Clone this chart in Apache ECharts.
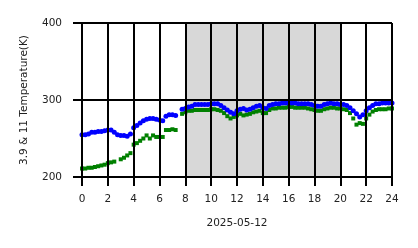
<!DOCTYPE html>
<html><head><meta charset="utf-8">
<script src="https://cdn.jsdelivr.net/npm/echarts@6/dist/echarts.min.js"></script>
<style>html,body{margin:0;padding:0;background:#fff}#c{width:418px;height:248px}</style>
</head><body><div id="c"></div>
<script>
const hours = [];
for (let i = 0; i <= 96; i++) hours.push(i * 0.25);
const xTicks = [0,2,4,6,8,10,12,14,16,18,20,22,24];
const yTicks = [200,300,400];
const shadeStart = 8, shadeEnd = 20;
const blue39 = [255,255,256,258,258,259,259,260,261,261,258,255,254,254,253,256,
264,267,270,273,275,276,276,275,274,273,279,281,281,280,null,288,
289,291,292,294,294,294,294,294,295,295,295,293,290,287,284,282,
286,288,289,287,288,290,292,293,290,289,293,294,295,295,296,296,
296,296,296,295,295,295,295,294,293,292,292,294,295,296,295,295,
294,294,293,290,286,282,278,281,286,290,293,295,295,296,296,296,296];
const green11 = [211,211,212,212,213,214,215,216,218,219,220,null,223,225,228,231,
242,244,247,250,254,250,254,252,252,252,261,261,262,261,null,282,
284,286,286,287,287,287,287,287,288,288,287,286,283,279,276,278,
280,282,280,281,282,284,285,286,283,283,287,289,289,290,290,290,
291,291,290,290,290,290,289,288,287,286,286,288,289,290,290,289,
289,288,287,283,276,268,270,269,276,281,285,287,288,288,288,289,289];

const pair = (arr) => hours.map((h, i) => [h, arr[i]]);
const font = {fontFamily: 'DejaVu Sans', color: '#222', fontSize: 10.5};
const chart = echarts.init(document.getElementById('c'), null, {renderer: 'canvas'});
chart.setOption({
  animation: false,
  grid: {left: 82, right: 26, top: 23, bottom: 71},
  xAxis: {
    type: 'value', min: 0, max: 24, interval: 2, z: 10,
    name: '2025-05-12', nameLocation: 'middle', nameGap: 41,
    nameTextStyle: font,
    axisLine: {show: false},
    axisTick: {show: true, length: 9, lineStyle: {color: '#000', width: 2}},
    axisLabel: Object.assign({margin: 17}, font),
    splitLine: {show: true, lineStyle: {color: '#000', width: 2}}
  },
  yAxis: {
    type: 'value', min: 200, max: 400, interval: 100, z: 10,
    name: '3.9 & 11 Temperature(K)', nameLocation: 'middle', nameGap: 52,
    nameTextStyle: font,
    axisLine: {show: false},
    axisTick: {show: true, length: 9, lineStyle: {color: '#000', width: 2}},
    axisLabel: Object.assign({margin: 20}, font),
    splitLine: {show: true, lineStyle: {color: '#000', width: 2}}
  },
  series: [
    {
      type: 'scatter', name: '11', data: pair(green11), symbol: 'rect', symbolSize: 4,
      itemStyle: {color: '#008000', opacity: 1}, z: 3,
      markArea: {silent: true, itemStyle: {color: '#d8d8d8', opacity: 1}, data: [[{xAxis: shadeStart}, {xAxis: shadeEnd}]]}
    },
    {
      type: 'scatter', name: '3.9', data: pair(blue39), symbol: 'circle', symbolSize: 5,
      itemStyle: {color: '#0000ff', opacity: 1}, z: 4
    }
  ]
});
</script></body></html>
